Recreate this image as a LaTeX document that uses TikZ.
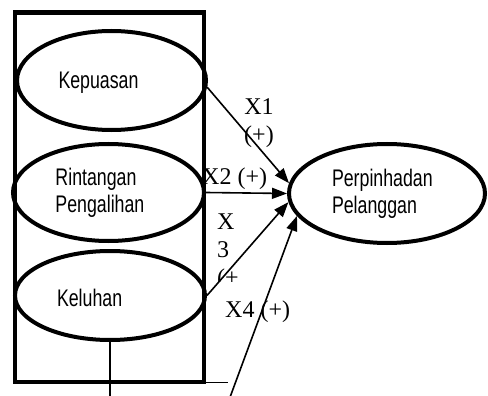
\documentclass[tikz,border=0pt]{standalone}
\usepackage{fontspec}
\setmainfont{Liberation Serif}
\newfontfamily\condfont[FakeStretch=0.74]{Liberation Sans}
\usepackage{tikz}
\usetikzlibrary{arrows.meta,shapes.geometric}

\begin{document}
\begin{tikzpicture}[x=1pt,y=-1pt,
  var/.style={draw,ellipse,line width=4pt,inner sep=0pt,text width=106pt,align=left,
              font=\condfont\fontsize{24}{27}\selectfont},
  link/.style={line width=1.6pt,-{Triangle[length=15pt,width=11pt]}},
  coef/.style={inner sep=0pt,font=\fontsize{24}{28}\selectfont}]
\useasboundingbox (0,0) rectangle (488,396);
% --- left: frame with the three variables ---
\node[draw,line width=4.5pt,inner sep=0pt,minimum width=189pt,minimum height=369.5pt] (frame) at (109.5,197.25) {};
\node[var,minimum width=189pt,minimum height=99pt,text height=17pt,text depth=0pt] (kep) at (111.5,80.5) {Kepuasan};
\node[var,minimum width=191pt,minimum height=97pt] (rint) at (108.5,192.5) {Rintangan\\Pengalihan};
\node[var,minimum width=190pt,minimum height=89pt,text height=22pt,text depth=0pt] (kel) at (110,295.5) {Keluhan};
% --- right: dependent variable ---
\node[var,minimum width=196pt,minimum height=99pt,text width=110pt] (perp) at (387,193.5) {Perpinhadan\\Pelanggan};
% --- loose ends below the frame ---
\coordinate (kelend) at (110,400);
\coordinate (tailend) at (228,382.5);
\coordinate (x4start) at (229,400);
\draw[line width=1.6pt] (kel.south) -- (kelend);
\draw[line width=1.6pt] (tailend -| frame.east) -- (tailend);
% --- paths into the dependent variable ---
\foreach \from/\ang in {kep.-4/174,rint.east/180,kel.east/185}{
  \draw[link] (\from) -- (perp.\ang);}
\draw[link] (x4start) -- (perp.194);
% --- coefficients ---
\node[coef,align=center,anchor=north] (x1) at (259,98) {X1\\(+)};
\node[coef,anchor=base west] (x2) at (202,184) {X2 (+)};
\begin{scope}
  \clip (200,200) rectangle (262,281.5);
  \node[coef,align=left,anchor=north west] (x3) at (217,214) {X\\3\\(+};
\end{scope}
\node[coef,anchor=base west] (x4) at (225,317) {X4 (+)};
\end{tikzpicture}
\end{document}
